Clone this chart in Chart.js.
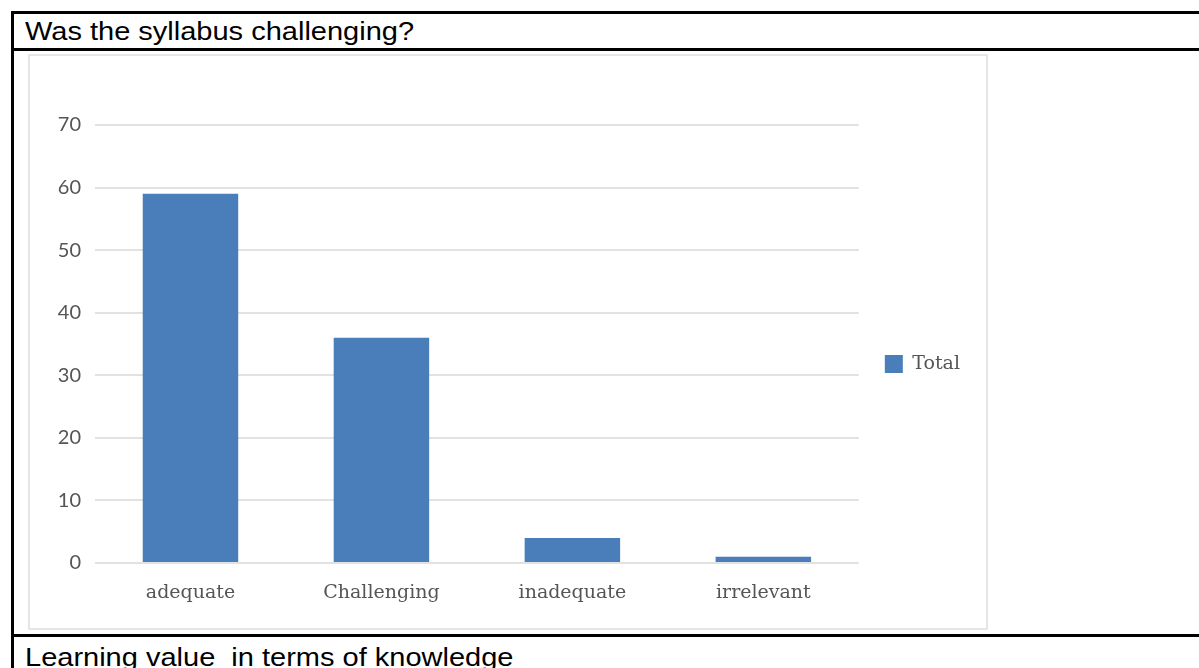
<!DOCTYPE html>
<html>
<head>
<meta charset="utf-8">
<script src="https://cdn.jsdelivr.net/npm/chart.js@4.4.1/dist/chart.umd.min.js"></script>
<style>
  html, body { margin: 0; padding: 0; background: #fff; overflow: hidden; }
  body { width: 1199px; height: 668px; position: relative; font-family: "Liberation Sans", Arial, sans-serif; }
  .rule { position: absolute; background: #000; }
  .cell-text { position: absolute; left: 25px; font-size: 25px; color: #000; white-space: pre;
               transform: scaleX(1.16); transform-origin: left top; line-height: 1; }
  #chartBox { position: absolute; left: 28px; top: 54px; width: 956px; height: 572px;
              border: 2px solid #e6e6e6; }
  #chartBox canvas { display: block; }
</style>
</head>
<body>
<div class="rule" style="left:11px; top:11px; width:1188px; height:3px;"></div>
<div class="rule" style="left:11px; top:11px; width:3px; height:657px;"></div>
<div class="rule" style="left:11px; top:48px; width:1188px; height:3px;"></div>
<div class="rule" style="left:11px; top:634px; width:1188px; height:3px;"></div>
<div class="cell-text" style="top:19px;">Was the syllabus challenging?</div>
<div class="cell-text" style="top:645px;">Learning value  in terms of knowledge</div>

<div id="chartBox"><canvas id="syllabusChart" width="956" height="572"></canvas></div>

<script>
const categories = ['adequate', 'Challenging', 'inadequate', 'irrelevant'];
const totals = [59, 36, 4, 1];
const seriesName = 'Total';
const yMax = 70;
const yStep = 10;

const barColor = '#4a7ebb';
const labelColor = '#555555';

new Chart(document.getElementById('syllabusChart'), {
    type: 'bar',
    data: {
        labels: categories,
        datasets: [{
            label: seriesName,
            data: totals,
            backgroundColor: barColor,
            barPercentage: 0.5,
            categoryPercentage: 1
        }]
    },
    options: {
        responsive: false,
        animation: false,
        layout: { padding: { top: 69, bottom: 25, left: 15, right: 16 } },
        scales: {
            x: {
                grid: { display: false, drawTicks: false },
                border: { display: false },
                ticks: {
                    color: labelColor,
                    padding: 19,
                    font: { family: 'DejaVu Serif', size: 19 }
                },
                afterFit: (scale) => { scale.height = 40; }
            },
            y: {
                min: 0,
                max: yMax,
                grid: { color: '#e2e2e2', lineWidth: 2, drawTicks: false },
                border: { display: false },
                ticks: {
                    stepSize: yStep,
                    color: labelColor,
                    padding: 14,
                    font: { family: 'Lato', size: 20 }
                },
                afterFit: (scale) => { scale.width = 50; }
            }
        },
        plugins: {
            legend: {
                position: 'right',
                labels: {
                    boxWidth: 18,
                    boxHeight: 18,
                    padding: 26,
                    color: labelColor,
                    font: { family: 'DejaVu Serif', size: 19 }
                }
            },
            tooltip: { enabled: false }
        }
    }
});
</script>
</body>
</html>
